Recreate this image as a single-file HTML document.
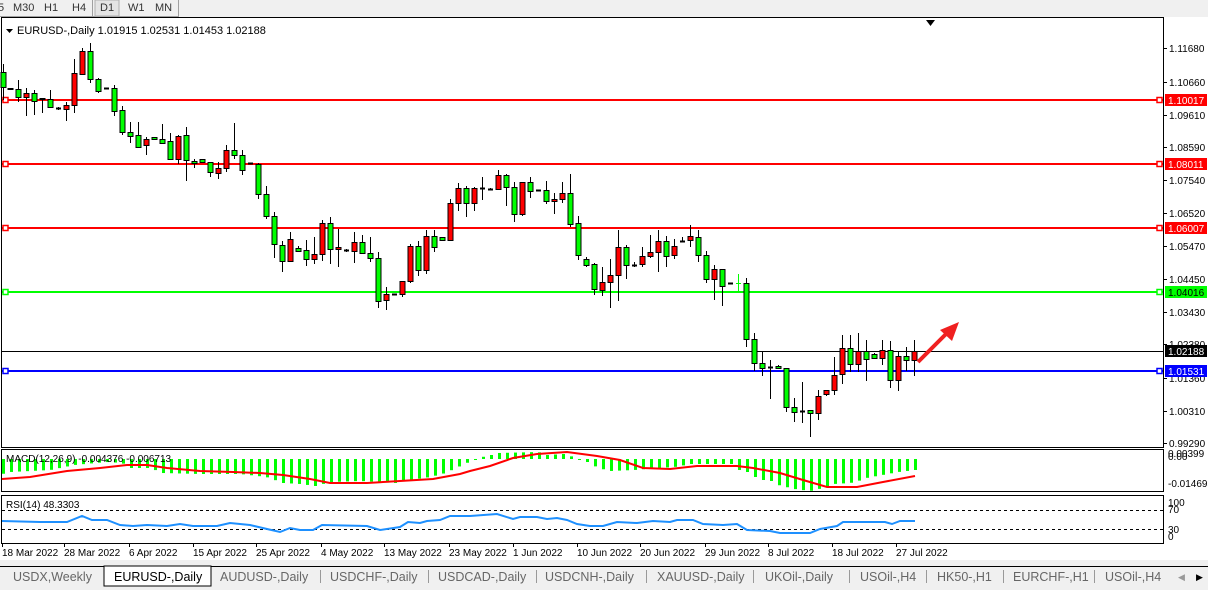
<!DOCTYPE html>
<html><head><meta charset="utf-8"><style>
body{margin:0;width:1208px;height:590px;overflow:hidden;background:#fff;font-family:"Liberation Sans",sans-serif}
svg{display:block}
</style></head><body>
<svg id="s" width="1208" height="590" xmlns="http://www.w3.org/2000/svg" font-family="Liberation Sans, sans-serif">
<rect x="0" y="0" width="1208" height="17" fill="#f0f0f0"/>
<line x1="0" y1="16.5" x2="178" y2="16.5" stroke="#a0a0a0"/>
<line x1="178.5" y1="0" x2="178.5" y2="17" stroke="#a0a0a0"/>
<rect x="95" y="0" width="24" height="16" fill="#e4e4e4" stroke="#b0b0b0"/>
<line x1="92.5" y1="0" x2="92.5" y2="16" stroke="#a0a0a0"/>
<g font-size="11" fill="#333">
<text x="-2" y="11">5</text><text x="13" y="11">M30</text><text x="44" y="11">H1</text><text x="72" y="11">H4</text><text x="100" y="11">D1</text><text x="128" y="11">W1</text><text x="155" y="11">MN</text>
</g>
<rect x="1.5" y="17.5" width="1162" height="430" fill="#fff" stroke="#000"/>
<rect x="1.5" y="449.5" width="1162" height="42" fill="#fff" stroke="#000"/>
<rect x="1.5" y="495.5" width="1162" height="48" fill="#fff" stroke="#000"/>
<polygon points="926,20 935,20 930.5,26" fill="#000"/>
<g id="hl"></g>
<g id="cd"></g>
<g id="ind"></g>
<g font-size="11" fill="#000">
<polygon points="6,29 13,29 9.5,33" fill="#000"/>
<text x="17" y="34">EURUSD-,Daily  1.01915 1.02531 1.01453 1.02188</text>
<text x="6" y="462" font-size="10">MACD(12,26,9) -0.004376 -0.006713</text>
<text x="6" y="508" font-size="10">RSI(14) 48.3303</text>
</g>
<g id="ax" font-size="10" fill="#000"></g>
<polyline points="918,362 950,330" stroke="#f02020" stroke-width="4" fill="none"/>
<polygon points="959,322 940,330 952,341" fill="#f02020"/>
<rect x="0" y="560" width="1208" height="30" fill="#f0f0f0"/>
<line x1="0" y1="566.5" x2="1208" y2="566.5" stroke="#000"/>
<rect x="104" y="566" width="107" height="20" fill="#fff" stroke="#000"/>
<g id="tabs" font-size="12.5" fill="#666">
<text x="13" y="581">USDX,Weekly</text>
<text x="114" y="581" fill="#000">EURUSD-,Daily</text>
<text x="220" y="581">AUDUSD-,Daily</text>
<text x="330" y="581">USDCHF-,Daily</text>
<text x="438" y="581">USDCAD-,Daily</text>
<text x="545" y="581">USDCNH-,Daily</text>
<text x="657" y="581">XAUUSD-,Daily</text>
<text x="765" y="581">UKOil-,Daily</text>
<text x="860" y="581">USOil-,H4</text>
<text x="937" y="581">HK50-,H1</text>
<text x="1013" y="581">EURCHF-,H1</text>
<text x="1105" y="581">USOil-,H4</text>
</g>
<text x="1178" y="580" font-size="9" fill="#999">◀</text><text x="1196" y="580" font-size="9" fill="#000">▶</text>
</svg>
<script>
var NS="http://www.w3.org/2000/svg";
function el(p,t,a,txt){var e=document.createElementNS(NS,t);for(var k in a)e.setAttribute(k,a[k]);if(txt)e.textContent=txt;p.appendChild(e);return e;}
var s=document.getElementById('s');
[320,428,536,646,753,849,926,1003,1094].forEach(function(x){el(s,'line',{x1:x+.5,y1:570,x2:x+.5,y2:583,stroke:'#999'});});
var hl=document.getElementById('hl');
var lines=[[100,'#ff0000','1.10017'],[164,'#ff0000','1.08011'],[228,'#ff0000','1.06007'],[292,'#00ff00','1.04016'],[371,'#0000ff','1.01531']];
el(hl,'line',{x1:2,y1:351.5,x2:1163,y2:351.5,stroke:'#000'});
lines.forEach(function(l){el(hl,'line',{x1:2,y1:l[0],x2:1163,y2:l[0],stroke:l[1],'stroke-width':2});
el(hl,'rect',{x:3,y:l[0]-2.5,width:5,height:5,fill:'#fff',stroke:l[1],'stroke-width':1.5});
el(hl,'rect',{x:1157,y:l[0]-2.5,width:5,height:5,fill:'#fff',stroke:l[1],'stroke-width':1.5});});
var C=[[3,64,100,72,87,'g'],[10,88,90,88,89,'g'],[18,80,102,89,97,'g'],[26,88,116,93,97,'r'],[34,90,115,93,101,'g'],[42,98,113,98,99,'g'],[50,90,108,99,107,'g'],[58,107,110,108,108,'d'],[66,102,121,105,109,'r'],[74,59,113,73,105,'r'],[82,48,75,51,74,'r'],[90,43,83,51,79,'g'],[98,78,93,79,91,'g'],[106,88,89,88,88,'d'],[114,85,116,88,111,'g'],[122,106,135,110,132,'g'],[130,122,143,132,136,'g'],[138,122,147,135,147,'g'],[146,137,155,139,145,'r'],[154,137,140,137,139,'g'],[162,124,143,139,143,'g'],[170,133,159,141,159,'g'],[178,135,164,136,159,'r'],[186,127,181,135,160,'g'],[194,159,168,161,163,'g'],[202,159,162,159,162,'g'],[210,162,177,162,172,'g'],[218,162,179,168,173,'r'],[226,145,172,150,168,'r'],[234,123,159,150,155,'g'],[242,150,175,155,170,'g'],[250,163,164,163,163,'d'],[258,163,199,164,194,'g'],[266,186,219,194,216,'g'],[274,212,258,216,244,'g'],[282,241,272,245,261,'g'],[290,232,262,239,261,'r'],[298,246,251,248,251,'g'],[306,240,266,250,259,'g'],[314,237,264,254,259,'r'],[322,220,261,223,254,'r'],[330,217,264,223,249,'g'],[338,229,267,247,249,'r'],[346,249,252,250,250,'d'],[354,232,263,242,251,'r'],[362,235,254,242,253,'g'],[370,237,262,253,258,'g'],[378,252,308,258,301,'g'],[386,287,310,294,300,'r'],[394,294,294,294,294,'d'],[402,281,297,281,294,'r'],[410,244,283,246,281,'r'],[418,241,276,246,270,'g'],[426,230,274,236,270,'r'],[434,230,252,236,247,'g'],[442,237,240,237,240,'g'],[450,199,240,203,240,'r'],[458,183,211,188,203,'r'],[466,186,217,188,203,'g'],[474,187,211,188,203,'r'],[482,177,200,188,188,'d'],[490,188,190,189,189,'d'],[498,170,189,175,189,'r'],[506,174,206,175,187,'g'],[514,182,222,187,214,'g'],[522,182,216,182,214,'r'],[530,177,198,182,191,'g'],[538,190,190,190,190,'d'],[546,181,204,190,201,'g'],[554,193,214,199,201,'r'],[562,182,203,193,199,'r'],[570,174,227,193,224,'g'],[578,216,260,223,255,'g'],[586,257,267,259,265,'g'],[594,263,295,264,289,'g'],[602,267,296,282,290,'r'],[610,259,308,275,282,'r'],[618,230,301,247,275,'r'],[626,245,279,247,265,'g'],[634,262,267,265,265,'d'],[642,247,267,256,264,'r'],[650,235,258,252,256,'r'],[658,230,272,241,252,'r'],[666,236,267,241,256,'g'],[674,239,259,246,255,'r'],[682,237,241,241,241,'d'],[690,225,247,236,240,'r'],[698,230,262,237,255,'g'],[706,251,283,255,279,'g'],[714,265,300,269,279,'r'],[722,269,306,269,286,'g'],[730,283,283,283,283,'d'],[738,274,291,283,283,'L'],[746,278,347,283,339,'g'],[754,333,371,339,363,'g'],[762,352,376,363,368,'g'],[770,360,399,367,367,'d'],[778,365,369,366,368,'g'],[786,368,412,368,407,'g'],[794,398,422,407,412,'g'],[802,382,423,411,411,'d'],[810,410,437,410,413,'g'],[818,390,420,396,413,'r'],[826,390,396,390,394,'r'],[834,357,395,375,390,'r'],[842,335,384,348,374,'r'],[850,335,372,348,364,'g'],[858,333,372,351,364,'r'],[866,340,381,351,359,'g'],[874,353,358,354,358,'g'],[882,340,365,350,358,'r'],[890,341,388,350,380,'g'],[898,352,391,356,380,'r'],[906,347,371,356,360,'g'],[914,340,376,351,360,'r']];
var cd=document.getElementById('cd');
C.forEach(function(c){var x=c[0];
if(c[5]=='L'){el(cd,'line',{x1:x+.5,y1:c[1],x2:x+.5,y2:c[2],stroke:'#00ff00'});el(cd,'line',{x1:x-2,y1:c[3]+.5,x2:x+3,y2:c[3]+.5,stroke:'#00ff00'});return;}
el(cd,'line',{x1:x+.5,y1:c[1],x2:x+.5,y2:c[2],stroke:'#000'});
if(c[5]=='d'||c[4]-c[3]<1){el(cd,'line',{x1:x-2,y1:c[3]+.5,x2:x+3,y2:c[3]+.5,stroke:'#000','stroke-width':2});return;}
el(cd,'rect',{x:x-2,y:c[3]+.5,width:5,height:c[4]-c[3],fill:c[5]=='g'?'#00ff00':'#ff0000',stroke:'#000'});});
var ind=document.getElementById('ind');
var H=[[2,474],[10,472],[50,470],[74,465],[106,462],[122,463],[130,468],[150,468],[162,473],[200,474],[240,474],[266,477],[283,483],[300,484],[315,486],[330,482],[360,481],[395,483],[410,480],[430,477],[445,473],[460,466],[474,459.5],[482,457],[491,455],[498,453],[538,452],[547,455],[563,454],[570,456],[578,459],[587,462],[594,466],[602,469],[610,471],[634,470],[658,468],[674,467],[691,464],[731,464],[739,470],[747,472],[755,477],[763,480],[771,481],[778,485],[786,487],[794,489],[810,491],[818,489],[826,488],[833,484],[850,483],[858,481],[866,478],[882,475],[898,472],[915,470]];
function interp(P,x){if(x<=P[0][0])return P[0][1];for(var i=1;i<P.length;i++){if(x<=P[i][0]){var a=P[i-1],b=P[i];return a[1]+(b[1]-a[1])*(x-a[0])/(b[0]-a[0]);}}return P[P.length-1][1];}
for(var x=3;x<=915;x+=8){var y=interp(H,x);var z=459;var t=Math.min(y,z),h=Math.max(Math.abs(y-z),1);el(ind,'rect',{x:x-1,y:t,width:3,height:h,fill:'#00ff00'});}
var S=[[2,479],[30,477],[67,471],[100,468],[127,465],[147,465],[167,468],[200,471],[233,472],[260,473],[283,475],[310,479],[330,483],[367,483],[400,481],[433,479],[460,474],[470,471],[490,466],[513,458],[537,454],[567,452],[597,456],[620,460],[643,468],[670,469],[697,466],[737,466],[753,468],[780,473],[803,480],[827,487],[857,487],[883,482],[915,476]];
el(ind,'polyline',{points:S.map(function(p){return p.join(',')}).join(' '),fill:'none',stroke:'#ff0000','stroke-width':2});
el(ind,'line',{x1:2,y1:510.5,x2:1163,y2:510.5,stroke:'#000','stroke-dasharray':'3,3'});
el(ind,'line',{x1:2,y1:529.5,x2:1163,y2:529.5,stroke:'#000','stroke-dasharray':'3,3'});
var R=[[2,521],[40,522],[67,522],[82,516],[92,520],[107,520],[120,525],[133,526],[147,525],[167,526],[180,524],[193,526],[217,526],[230,523],[250,525],[267,529],[280,532],[290,528],[300,530],[313,530],[322,525],[367,526],[380,530],[400,527],[408,522],[420,523],[427,521],[440,520],[450,516],[470,516],[497,514],[513,519],[520,517],[537,517],[547,519],[557,518],[567,520],[577,524],[590,526],[603,526],[617,522],[637,523],[653,521],[670,522],[677,520],[693,520],[703,524],[723,525],[737,524],[747,530],[770,531],[780,533],[810,533],[820,529],[837,526],[843,522],[885,522],[892,524],[900,521],[915,521]];
el(ind,'polyline',{points:R.map(function(p){return p.join(',')}).join(' '),fill:'none',stroke:'#1e90ff','stroke-width':2});
var ax=document.getElementById('ax');
[['1.11680',48],['1.10660',82],['1.09610',115],['1.08590',147],['1.07540',180],['1.06520',213],['1.05470',246],['1.04450',279],['1.03430',312],['1.02380',344],['1.01360',378],['1.00310',411],['0.99290',443]].forEach(function(p){
el(ax,'line',{x1:1163,y1:p[1]+.5,x2:1167,y2:p[1]+.5,stroke:'#000'});el(ax,'text',{x:1169,y:p[1]+4},p[0]);});
[['0.00399',457],['0.00',460],['-0.014693',487],['100',506],['70',513],['30',533],['0',540]].forEach(function(p){el(ax,'text',{x:1168,y:p[1]},p[0]);});
lines.concat([[351,'#000','1.02188']]).forEach(function(l){el(ax,'rect',{x:1165,y:l[0]-6,width:42,height:12,fill:l[1]});el(ax,'text',{x:1168,y:l[0]+4,fill:l[1]=='#00ff00'?'#000':'#fff'},l[2]);});
[['18 Mar 2022',2],['28 Mar 2022',64],['6 Apr 2022',129],['15 Apr 2022',193],['25 Apr 2022',256],['4 May 2022',321],['13 May 2022',384],['23 May 2022',449],['1 Jun 2022',513],['10 Jun 2022',577],['20 Jun 2022',640],['29 Jun 2022',705],['8 Jul 2022',768],['18 Jul 2022',832],['27 Jul 2022',896]].forEach(function(d){
el(ax,'line',{x1:d[1]+.5,y1:543,x2:d[1]+.5,y2:547,stroke:'#000'});el(ax,'text',{x:d[1],y:556},d[0]);});
</script>
</body></html>
